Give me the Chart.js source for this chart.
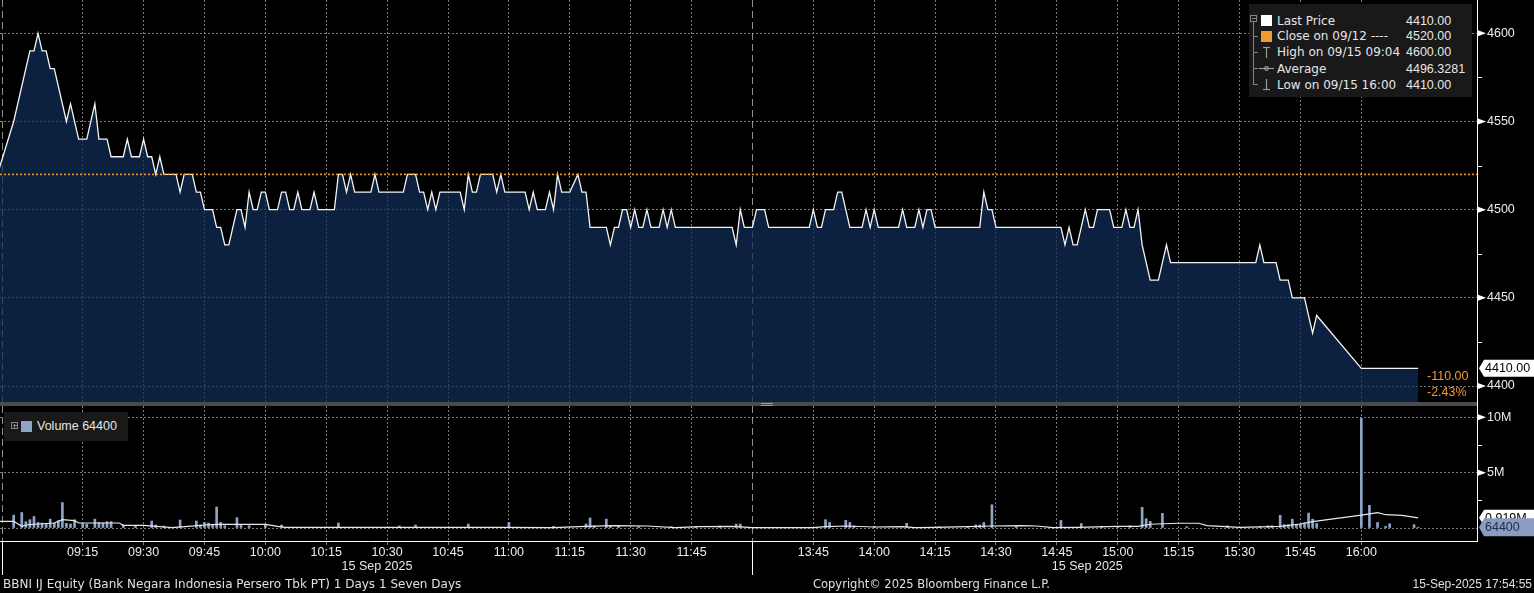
<!DOCTYPE html>
<html>
<head>
<meta charset="utf-8">
<script src="https://cdn.jsdelivr.net/npm/chart.js@4.4.1/dist/chart.umd.min.js"></script>
<style>
  html, body { margin: 0; padding: 0; background: #000; }
  body { width: 1534px; height: 593px; position: relative; overflow: hidden; color: #e6e6e6; font-family: "DejaVu Sans", sans-serif; }
  #price { position: absolute; left: 0; top: 0; }
  #vol { position: absolute; left: 0; top: 406px; }
  #divider { position: absolute; left: 0; top: 402px; width: 1477px; height: 4px; background: #4b4b4b; }
  #handle { position: absolute; left: 761px; top: 403px; width: 12px; height: 1px; border-top: 1px solid #9a9a9a; border-bottom: 1px solid #9a9a9a; }
  #axisJoin { position: absolute; left: 1477px; top: 402px; width: 1px; height: 4px; background: #fff; }
  .box { position: absolute; background: #191919; }
  .row { position: absolute; height: 16px; line-height: 16px; font-size: 12px; white-space: nowrap; }
  .num { font-family: "Liberation Sans", sans-serif; font-size: 12.5px; }
  .foot { position: absolute; top: 576px; height: 16px; line-height: 16px; font-size: 12px; white-space: nowrap; color: #e0e0e0; }
</style>
</head>
<body>
<canvas id="price" width="1534" height="402"></canvas>
<div id="divider"></div><div id="handle"></div><div id="axisJoin"></div>
<canvas id="vol" width="1534" height="187"></canvas>

<div class="box" style="left:1249px;top:4px;width:223px;height:93px;">
  <svg width="223" height="93" style="position:absolute;left:0;top:0">
    <g stroke="#858585" stroke-width="1" fill="none" shape-rendering="crispEdges">
      <rect x="1.5" y="11.5" width="6" height="6"/>
      <line x1="3" y1="14.5" x2="7" y2="14.5"/>
      <line x1="4.5" y1="18" x2="4.5" y2="81"/>
      <line x1="4.5" y1="32.5" x2="9" y2="32.5"/>
      <line x1="4.5" y1="48.5" x2="9" y2="48.5"/>
      <line x1="4.5" y1="64.5" x2="9" y2="64.5"/>
      <line x1="4.5" y1="80.5" x2="9" y2="80.5"/>
    </g>
    <rect x="12" y="11" width="11" height="11" fill="#ffffff"/>
    <rect x="12" y="27" width="11" height="11" fill="#f49a2c"/>
    <g stroke="#9a9a9a" stroke-width="1.2" fill="none">
      <line x1="14" y1="43.5" x2="21" y2="43.5"/><line x1="17.5" y1="43.5" x2="17.5" y2="54"/>
      <line x1="10" y1="64.5" x2="25" y2="64.5"/><circle cx="17.5" cy="64.5" r="1.8"/>
      <line x1="17.5" y1="75" x2="17.5" y2="85.5"/><line x1="14" y1="85.5" x2="21" y2="85.5"/>
    </g>
  </svg>
  <div class="row" style="left:28px;top:9px">Last Price</div>
  <div class="row num" style="left:157px;top:9px">4410.00</div>
  <div class="row" style="left:28px;top:24px">Close on 09/12 ----</div>
  <div class="row num" style="left:157px;top:24px">4520.00</div>
  <div class="row" style="left:28px;top:40px">High on 09/15 09:04</div>
  <div class="row num" style="left:157px;top:40px">4600.00</div>
  <div class="row" style="left:28px;top:57px">Average</div>
  <div class="row num" style="left:157px;top:57px">4496.3281</div>
  <div class="row" style="left:28px;top:73px">Low on 09/15 16:00</div>
  <div class="row num" style="left:157px;top:73px">4410.00</div>
</div>

<div class="box" style="left:4px;top:412px;width:124px;height:29px;">
  <svg width="124" height="29" style="position:absolute;left:0;top:0">
    <g stroke="#858585" stroke-width="1" fill="none" shape-rendering="crispEdges">
      <rect x="7.5" y="10.5" width="6" height="6"/>
      <line x1="9" y1="13.5" x2="13" y2="13.5"/><line x1="10.5" y1="12" x2="10.5" y2="16"/>
    </g>
    <rect x="17" y="9" width="11" height="11" fill="#8fa5c8"/>
  </svg>
  <div class="row num" style="left:33px;top:6px">Volume 64400</div>
</div>

<div class="foot" style="left:3px">BBNI IJ Equity (Bank Negara Indonesia Persero Tbk PT) 1 Days 1 Seven Days</div>
<div class="foot" style="left:813px;font-size:11.5px">Copyright© 2025 Bloomberg Finance L.P.</div>
<div class="foot num" style="right:2px;font-size:12px">15-Sep-2025 17:54:55</div>

<script>
(function () {
    "use strict";

    // x axis is trading minutes from 09:00, lunch break (12:00-13:30) collapsed at 180
    const axisMin = -5.37;
    const axisMax = 358.5;
    const tickMinutes = [15, 30, 45, 60, 75, 90, 105, 120, 135, 150, 165,
                         195, 210, 225, 240, 255, 270, 285, 300, 315, 330];
    const sessionMarks = [-5, 180];
    const sessionSpans = [[-5, 180], [180, 345]];
    const dateLabel = "15 Sep 2025";

    // last price, per minute vertices
    const priceMinutes = [
        -6, -2, 2, 3, 4,   5, 6, 7, 8, 11,   12, 14, 16, 18, 19,   21, 22, 25, 26, 27,
        29, 30, 31, 32, 33,   34, 35, 38, 39, 40,   42, 43, 44, 45, 47,   48, 49, 50, 51, 53,
        54, 55, 56, 57, 58,   59, 60,
        61, 63, 64, 65, 66,   67, 68, 69, 71, 72,   73, 77, 78, 79, 80,   81, 82, 86, 87, 88,
        94, 95, 97, 98, 99,   100, 101, 102, 103, 108,   109, 110, 111, 112, 113,   116, 117, 118, 119, 124,
        125, 126, 127, 129, 130,   131, 132, 133, 135, 137,   138, 139, 140, 144, 145,   146, 147, 148, 149, 150,
        151, 152, 153, 154, 155,   157, 158, 159, 160, 161,   175, 176, 177, 178, 180,
        181, 183, 184, 194, 195,   196, 197, 198, 200, 201,   202, 204, 207, 208, 209,   210, 211, 216, 217, 218,
        220, 221, 222, 223, 224,   225, 236, 237, 238, 239,   240, 256, 257, 258, 259,   260, 262, 263, 264, 265,
        268, 269, 271, 272, 273,   274, 275, 276, 278, 280,   282, 283, 304, 305, 306,   309, 310, 312, 313, 316,
        318, 319, 330, 344
    ];
    const priceValues = [
        4520, 4550, 4590, 4590, 4600,   4590, 4590, 4580, 4580, 4550,   4560, 4540, 4540, 4560, 4540,   4540, 4530, 4530, 4540, 4530,
        4530, 4540, 4530, 4530, 4520,   4530, 4520, 4520, 4510, 4520,   4520, 4510, 4510, 4500, 4500,   4490, 4490, 4480, 4480, 4500,
        4500, 4490, 4510, 4500, 4500,   4510, 4510,
        4500, 4500, 4510, 4510, 4500,   4500, 4510, 4500, 4500, 4510,   4500, 4500, 4520, 4520, 4510,   4520, 4510, 4510, 4520, 4510,
        4510, 4520, 4520, 4510, 4510,   4500, 4510, 4500, 4510, 4510,   4500, 4520, 4510, 4510, 4520,   4520, 4510, 4520, 4510, 4510,
        4500, 4510, 4500, 4500, 4510,   4500, 4520, 4510, 4510, 4520,   4510, 4510, 4490, 4490, 4480,   4490, 4490, 4500, 4500, 4490,
        4500, 4490, 4490, 4500, 4490,   4490, 4500, 4490, 4500, 4490,   4490, 4480, 4500, 4490, 4490,
        4500, 4500, 4490, 4490, 4500,   4490, 4490, 4500, 4500, 4510,   4510, 4490, 4490, 4500, 4490,   4500, 4490, 4490, 4500, 4490,
        4490, 4500, 4490, 4500, 4500,   4490, 4490, 4510, 4500, 4500,   4490, 4490, 4480, 4490, 4480,   4480, 4500, 4490, 4490, 4500,
        4500, 4490, 4490, 4500, 4490,   4490, 4500, 4480, 4460, 4460,   4480, 4470, 4470, 4480, 4470,   4470, 4460, 4460, 4450, 4450,
        4430, 4440, 4410, 4410
    ];
    const prevClose = 4520;
    const lastPrice = 4410;
    const netChange = -110;
    const pctChange = -2.43;
    const priceTicks = [4400, 4450, 4500, 4550, 4600];
    const priceMinor = [4425, 4475, 4525, 4575];

    // volume bars
    const volMinutes = [
        -2, 0, 1, 2, 3,   4, 5, 6, 7, 8,   9, 10, 11, 12, 13,   15, 16, 18, 19, 20,
        21, 22, 25, 28, 32,   33, 35, 39, 43, 44,   45, 46, 47, 48, 49,   50, 53, 54, 56, 60,
        64, 78, 93, 97, 110,   120, 131, 139, 140, 141,   144, 145, 147, 152, 160,   166, 172, 176, 177, 198,
        199, 203, 204, 205, 210,   218, 226, 233, 235, 236,   237, 239, 245, 256, 261,   266, 270, 273, 276, 277,
        278, 281, 287, 297, 305,   307, 308, 310, 311, 312,   313, 314, 315, 316, 317,   318, 319, 330, 332, 334,
        336, 337, 343, 344
    ];
    const volValues = [
        1160000, 1400000, 570000, 750000, 1040000,   500000, 450000, 360000, 800000, 450000,
        660000, 2300000, 420000, 360000, 750000,   390000, 330000, 800000, 500000, 450000,
        570000, 570000, 270000, 200000, 630000,   270000, 180000, 720000, 630000, 270000,
        500000, 450000, 270000, 1900000, 500000,   200000, 930000, 270000, 200000, 270000,
        270000, 450000, 180000, 270000, 360000,   500000, 150000, 360000, 900000, 200000,
        800000, 200000, 180000, 120000, 120000,   120000, 180000, 360000, 360000, 750000,
        500000, 700000, 500000, 200000, 150000,   420000, 120000, 120000, 270000, 270000,
        500000, 2100000, 150000, 680000, 400000,   150000, 150000, 200000, 1870000, 840000,
        600000, 1320000, 120000, 200000, 120000,   200000, 200000, 1150000, 300000, 300000,
        800000, 300000, 350000, 450000, 1350000,   800000, 400000, 9900000, 2050000, 500000,
        150000, 380000, 300000, 64400
    ];
    // white line in the volume panel
    const volAvgMinutes = [
        -6, -2, 0, 1, 4,   8, 10, 13, 14, 24,   25, 30, 34, 37, 41,   45, 48, 60, 63, 65,
        118, 131, 139, 146, 154,   161, 167, 175, 180, 195,   198, 203, 210, 217, 220,
        225, 233, 239, 246, 250,   254, 260, 270, 275, 278,   285, 290, 292, 300, 310,
        315, 318, 330, 334, 336,   340, 344
    ];
    const volAvgValues = [
        600000, 600000, 150000, 270000, 360000,   450000, 750000, 660000, 450000, 450000,
        240000, 240000, 120000, 30000, 150000,   270000, 330000, 330000, 150000, 60000,
        60000, 30000, 150000, 210000, 180000,   30000, 120000, 150000, 30000, 30000,
        120000, 180000, 90000, 120000, 30000,   60000, 120000, 180000, 210000, 180000,
        30000, 60000, 150000, 150000, 340000,   430000, 430000, 210000, 60000, 150000,
        360000, 570000, 1170000, 1380000, 1200000,   1140000, 920000
    ];
    const lastVolume = 64400;
    const lastVolAvg = 919000;
    const volTicks = [0, 5000000, 10000000];
    const volMinor = [2500000, 7500000];

    const gridGray = "rgba(165,165,165,0.75)";
    const numFont = { family: "Liberation Sans", size: 12.5 };
    Chart.defaults.font.family = "Liberation Sans";

    const minuteLabel = (m) => {
        const t = m <= 180 ? 540 + m : 810 + (m - 180);
        return String(Math.floor(t / 60)).padStart(2, "0") + ":" + String(t % 60).padStart(2, "0");
    };
    const fixRight = (s) => { s.width = 57; s.paddingTop = 0; s.paddingBottom = 0; };

    const pointer = (ctx, x, y) => {
        ctx.beginPath();
        ctx.moveTo(x + 1, y - 3);
        ctx.lineTo(x + 9, y);
        ctx.lineTo(x + 1, y + 3);
        ctx.closePath();
        ctx.fill();
    };
    const minorTick = (ctx, x, y) => {
        ctx.fillRect(x, Math.round(y), 5, 1);
    };
    const tagBox = (ctx, x, right, y, h, fill) => {
        ctx.fillStyle = fill;
        ctx.beginPath();
        ctx.moveTo(x + 2, y);
        ctx.lineTo(x + 7, y - h / 2);
        ctx.lineTo(right, y - h / 2);
        ctx.lineTo(right, y + h / 2);
        ctx.lineTo(x + 7, y + h / 2);
        ctx.closePath();
        ctx.fill();
    };
    const sessionLines = {
        id: "sessionLines",
        beforeDatasetsDraw(chart) {
            const { ctx, chartArea: a, scales: { x } } = chart;
            ctx.save();
            ctx.strokeStyle = "rgba(190,190,190,0.75)";
            ctx.lineWidth = 1;
            ctx.setLineDash([7, 4]);
            sessionMarks.forEach((m) => {
                const px = Math.round(x.getPixelForValue(m)) + 0.5;
                ctx.beginPath();
                ctx.moveTo(px, a.top);
                ctx.lineTo(px, a.bottom);
                ctx.stroke();
            });
            ctx.restore();
        },
    };

    const priceExtras = {
        id: "priceExtras",
        afterDraw(chart) {
            const { ctx, chartArea: a, scales: { y } } = chart;
            ctx.save();
            ctx.fillStyle = "#ffffff";
            priceTicks.forEach((v) => pointer(ctx, a.right, y.getPixelForValue(v)));
            priceMinor.forEach((v) => minorTick(ctx, a.right, y.getPixelForValue(v)));

            const ly = y.getPixelForValue(lastPrice);
            tagBox(ctx, a.right, chart.width, ly, 17, "#ffffff");
            ctx.fillStyle = "#000000";
            ctx.font = "12.5px 'Liberation Sans'";
            ctx.textBaseline = "middle";
            ctx.fillText(lastPrice.toFixed(2), a.right + 8, ly + 0.5);

            ctx.fillStyle = "#f49a2c";
            ctx.fillText(netChange.toFixed(2), a.right - 50, ly + 8);
            ctx.fillText(pctChange.toFixed(2) + "%", a.right - 50, ly + 24);
            ctx.restore();
        },
    };

    const volExtras = {
        id: "volExtras",
        afterDraw(chart) {
            const { ctx, chartArea: a, scales: { x, y } } = chart;
            ctx.save();
            ctx.fillStyle = "#ffffff";
            volTicks.slice(1).forEach((v) => pointer(ctx, a.right, y.getPixelForValue(v)));
            volMinor.forEach((v) => minorTick(ctx, a.right, y.getPixelForValue(v)));

            // session separators under the axis
            sessionMarks.forEach((m) => {
                const px = Math.round(x.getPixelForValue(m));
                ctx.fillRect(px, a.bottom, 1, 34);
            });

            ctx.font = "12.5px 'Liberation Sans'";
            ctx.textBaseline = "middle";
            ctx.textAlign = "center";
            ctx.fillStyle = "#e6e6e6";
            sessionSpans.forEach(([s, e]) => {
                ctx.fillText(dateLabel, (x.getPixelForValue(s) + x.getPixelForValue(e)) / 2, a.bottom + 26);
            });

            ctx.textAlign = "left";
            const ay = y.getPixelForValue(lastVolAvg);
            tagBox(ctx, a.right, chart.width, ay, 16, "#ffffff");
            ctx.fillStyle = "#000000";
            ctx.fillText((lastVolAvg / 1e6).toFixed(3) + "M", a.right + 8, ay + 0.5);

            const vy = y.getPixelForValue(lastVolume);
            tagBox(ctx, a.right, chart.width, vy, 18, "#8a9cbf");
            ctx.fillStyle = "#1c2c4a";
            ctx.fillText(String(lastVolume), a.right + 8, vy + 0.5);
            ctx.restore();
        },
    };

    new Chart(document.getElementById("price"), {
        type: "line",
        data: {
            datasets: [
                {
                    data: priceMinutes.map((m, i) => ({ x: m, y: priceValues[i] })),
                    borderColor: "#f4f4f4",
                    borderWidth: 1.3,
                    backgroundColor: "rgba(15,46,88,0.72)",
                    fill: "start",
                    pointRadius: 0,
                    tension: 0,
                    order: 2,
                },
                {
                    data: [{ x: axisMin, y: prevClose }, { x: axisMax, y: prevClose }],
                    borderColor: "#f49a2c",
                    borderWidth: 1.6,
                    borderDash: [2, 2],
                    pointRadius: 0,
                    fill: false,
                    order: 1,
                },
            ],
        },
        options: {
            responsive: false,
            animation: false,
            events: [],
            layout: { autoPadding: false, padding: 0 },
            plugins: { legend: { display: false }, tooltip: { enabled: false } },
            scales: {
                x: {
                    type: "linear",
                    min: axisMin,
                    max: axisMax,
                    afterBuildTicks: (s) => { s.ticks = tickMinutes.map((v) => ({ value: v })); },
                    afterFit: (s) => { s.height = 0; s.paddingLeft = 0; s.paddingRight = 0; },
                    ticks: { display: false },
                    grid: { color: gridGray, drawTicks: false },
                    border: { display: false, dash: [2, 2] },
                },
                y: {
                    position: "right",
                    min: 4390.93,
                    max: 4618.9,
                    afterBuildTicks: (s) => { s.ticks = priceTicks.map((v) => ({ value: v })); },
                    afterFit: fixRight,
                    ticks: { color: "#ececec", font: numFont, padding: 10, callback: (v) => String(v) },
                    grid: { color: gridGray, drawTicks: false },
                    border: { color: "#ffffff", width: 1, dash: [2, 2] },
                },
            },
        },
        plugins: [sessionLines, priceExtras],
    });

    new Chart(document.getElementById("vol"), {
        type: "bar",
        data: {
            datasets: [
                {
                    type: "line",
                    data: volAvgMinutes.map((m, i) => ({ x: m, y: volAvgValues[i] })),
                    borderColor: "#e8e8e8",
                    borderWidth: 1.2,
                    pointRadius: 0,
                    fill: false,
                    tension: 0,
                    order: 1,
                },
                {
                    type: "bar",
                    data: volMinutes.map((m, i) => ({ x: m, y: volValues[i] })),
                    backgroundColor: "#8fa5c8",
                    barThickness: 2,
                    order: 2,
                },
            ],
        },
        options: {
            responsive: false,
            animation: false,
            events: [],
            layout: { autoPadding: false, padding: 0 },
            plugins: { legend: { display: false }, tooltip: { enabled: false } },
            scales: {
                x: {
                    type: "linear",
                    min: axisMin,
                    max: axisMax,
                    offset: false,
                    afterBuildTicks: (s) => { s.ticks = tickMinutes.map((v) => ({ value: v })); },
                    afterFit: (s) => { s.height = 52; s.paddingLeft = 0; s.paddingRight = 0; },
                    ticks: { color: "#ececec", font: numFont, padding: 0, autoSkip: false, maxRotation: 0, callback: (v) => minuteLabel(v) },
                    grid: { color: gridGray, offset: false, tickLength: 4, tickColor: gridGray },
                    border: { color: "#ffffff", width: 1, dash: [2, 2] },
                },
                y: {
                    position: "right",
                    min: -1174000,
                    max: 11020000,
                    afterBuildTicks: (s) => { s.ticks = volTicks.map((v) => ({ value: v })); },
                    afterFit: fixRight,
                    ticks: { color: "#ececec", font: numFont, padding: 10, callback: (v) => (v === 0 ? "" : v / 1e6 + "M") },
                    grid: { color: gridGray, drawTicks: false },
                    border: { color: "#ffffff", width: 1, dash: [2, 2] },
                },
            },
        },
        plugins: [sessionLines, volExtras],
    });
})();
</script>
</body>
</html>
